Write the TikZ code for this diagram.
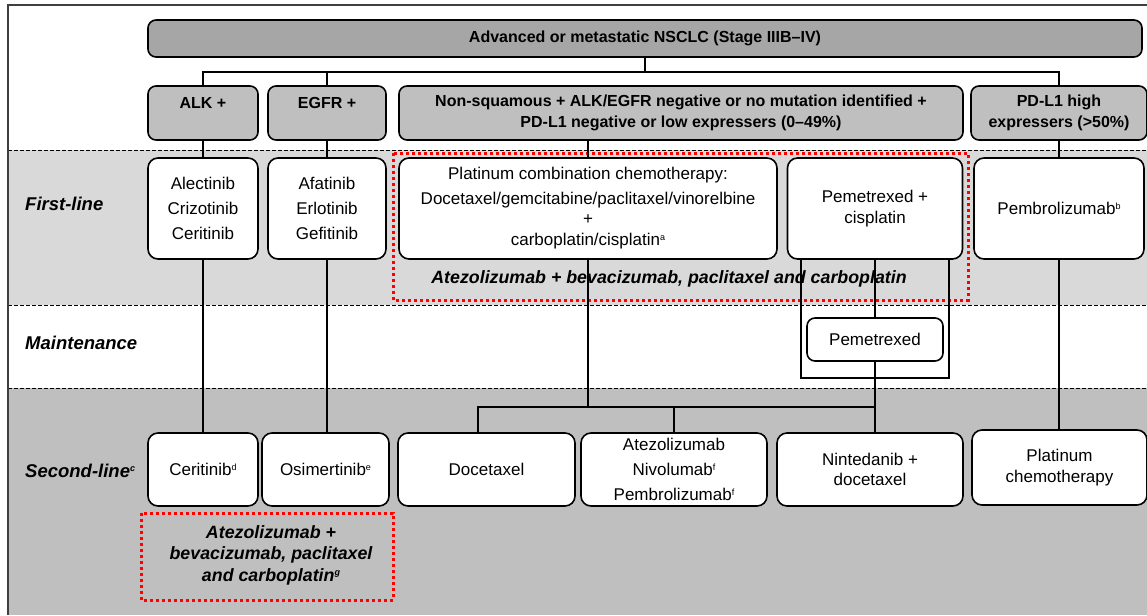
\documentclass[tikz,border=0pt]{standalone}
\usepackage{fontspec}
\setmainfont{Liberation Sans}
\usetikzlibrary{positioning}
\definecolor{bandlight}{HTML}{D9D9D9}
\definecolor{banddark}{HTML}{BFBFBF}
\definecolor{headgray}{HTML}{A6A6A6}
\definecolor{framegray}{HTML}{3F3F3F}
\newcommand{\smallsup}[1]{\raisebox{0.6ex}{\fontsize{9}{9}\selectfont #1}}

\begin{document}
\begin{tikzpicture}[x=1pt, y=-1pt,
  every node/.style={font=\fontsize{17}{25}\selectfont, align=center, inner sep=0pt},
  box/.style={draw=black, line width=1.6pt, rounded corners=10pt, fill=white},
  headbox/.style={draw=black, line width=1.6pt, rounded corners=8pt, fill=banddark, font=\bfseries\fontsize{16}{21}\selectfont},
  wrapped/.style={font=\fontsize{17}{20.5}\selectfont},
  rowlabel/.style={anchor=west, font=\bfseries\itshape\fontsize{18.5}{22}\selectfont},
  link/.style={line width=1.4pt},
  sep/.style={line width=0.9pt, dash pattern=on 4pt off 2pt},
  redbox/.style={draw=red, line width=3pt, dash pattern=on 3pt off 3pt},
  redtext/.style={font=\bfseries\itshape\fontsize{17.8}{21.5}\selectfont}
]
\useasboundingbox (0,0) rectangle (1147,615);

% bands and frame
\fill[bandlight] (8,150) rectangle (1147,305);
\fill[banddark] (8,388) rectangle (1147,615);
\foreach \y in {150,305,388} \draw[sep] (8,\y) -- (1147,\y);
\draw[framegray, line width=1.8pt] (8,615) -- (8,5) -- (1147,5);

\node[rowlabel] (firstlbl) at (25,204) {First-line};
\node[rowlabel] (maintlbl) at (25,343) {Maintenance};
\node[rowlabel] (secondlbl) at (25,471) {Second-line\smallsup{c}};

% red dotted groups
\draw[redbox] (393,153) rectangle (968,300);
\draw[redbox] (141,513) rectangle (393,600);
\node[redtext] (atezofirst) at (669,279) {Atezolizumab + bevacizumab, paclitaxel and carboplatin};
\node[redtext] (atezosecond) at (271,555) {Atezolizumab +\\bevacizumab, paclitaxel\\and carboplatin\smallsup{g}};

% header boxes
\node[headbox, fill=headgray, minimum width=994pt, minimum height=37pt] (nsclc) at (645,38.5) {Advanced or metastatic NSCLC (Stage IIIB--IV)};
\node[headbox, minimum width=110pt, minimum height=54pt] (alk) at (203,113) {ALK +\\\mbox{}};
\node[headbox, minimum width=118pt, minimum height=54pt] (egfr) at (327,113) {EGFR +\\\mbox{}};
\node[headbox, minimum width=564pt, minimum height=54pt] (nonsq) at (681,113) {Non-squamous + ALK/EGFR negative or no mutation identified +\\PD-L1 negative or low expressers (0--49\%)};
\node[headbox, minimum width=176pt, minimum height=54pt] (pdl1) at (1059,113) {PD-L1 high\\expressers (>50\%)};

% first-line
\node[box, minimum width=110pt, minimum height=101pt] (alkfirst) at (203,208.5) {Alectinib\\Crizotinib\\Ceritinib};
\node[box, minimum width=118pt, minimum height=101pt] (egfrfirst) at (327,208.5) {Afatinib\\Erlotinib\\Gefitinib};
\node[box, minimum width=378pt, minimum height=101pt] (platinum) at (588,208.5) {Platinum combination chemotherapy:\\Docetaxel/gemcitabine/paclitaxel/vinorelbine\\[-5pt]+\\[-4pt]carboplatin/cisplatin\smallsup{a}};
\node[box, wrapped, minimum width=175pt, minimum height=101pt] (pemcis) at (875,208.5) {Pemetrexed +\\cisplatin};
\node[box, minimum width=170pt, minimum height=101pt] (pembro) at (1059,208.5) {Pembrolizumab\smallsup{b}};

% maintenance
\node[box, rounded corners=8pt, minimum width=136pt, minimum height=43pt] (pemetrexed) at (875,339.5) {Pemetrexed};

% second-line
\node[box, minimum width=110pt, minimum height=73pt] (ceritinib) at (203,469.5) {Ceritinib\smallsup{d}};
\node[box, minimum width=127pt, minimum height=73pt] (osimertinib) at (325.5,469.5) {Osimertinib\smallsup{e}};
\node[box, minimum width=177pt, minimum height=73pt] (docetaxel) at (486.5,469.5) {Docetaxel};
\node[box, minimum width=186pt, minimum height=73pt] (immuno) at (674,469.5) {Atezolizumab\\Nivolumab\smallsup{f}\\Pembrolizumab\smallsup{f}};
\node[box, wrapped, minimum width=186pt, minimum height=73pt] (nintedanib) at (870,469.5) {Nintedanib +\\docetaxel};
\node[box, wrapped, minimum width=175pt, minimum height=75pt] (platchemo) at (1059.5,467.5) {Platinum\\chemotherapy};

% connectors
\coordinate (topbus) at (645,72);
\coordinate (lowbus) at (875,407);
\coordinate (docdrop) at (478,407);
\coordinate (bracketl) at (801,378);
\coordinate (bracketr) at (949,378);
\draw[link] (nsclc.south) -- (topbus);
\draw[link] (alk.north) -- (alk.north |- topbus) -- (pdl1.north |- topbus) -- (pdl1.north);
\draw[link] (egfr.north) -- (egfr.north |- topbus);
\draw[link] (alk) -- (alkfirst) -- (ceritinib);
\draw[link] (egfr) -- (egfrfirst);
\draw[link] (egfrfirst.south) -- (egfrfirst.south |- osimertinib.north);
\draw[link] (platinum.north |- nonsq.south) -- (platinum.north);
\draw[link] (platinum.south) -- (platinum.south |- lowbus);
\draw[link] (docdrop |- docetaxel.north) -- (docdrop) -- (lowbus);
\draw[link] (immuno.north) -- (immuno.north |- lowbus);
\draw[link] (pemcis.south) -- (pemetrexed.north);
\draw[link] (pemetrexed.south) -- (pemetrexed.south |- nintedanib.north);
\draw[link] (bracketl |- pemcis.south) -- (bracketl) -- (bracketr) -- (bracketr |- pemcis.south);
\draw[link] (pdl1.south) -- (pdl1.south |- pembro.north);
\draw[link] (pembro.south) -- (pembro.south |- platchemo.north);
\end{tikzpicture}
\end{document}
